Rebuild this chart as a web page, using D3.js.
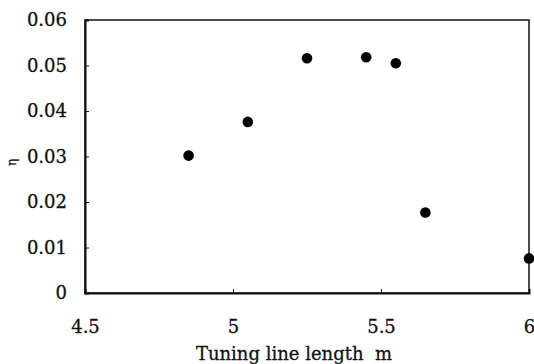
<!DOCTYPE html>
<html>
<head>
<meta charset="utf-8">
<script src="https://cdn.jsdelivr.net/npm/d3@7"></script>
<style>
  body { margin: 0; background: #fff; }
  svg text { font-family: 'DejaVu Serif', 'Liberation Serif', serif; fill: #111; stroke: #111; stroke-width: 0.3px; }
</style>
</head>
<body>
<svg id="chart"></svg>
<script>
// tuning line length (m) vs eta
const lengths = [4.85, 5.05, 5.25, 5.45, 5.55, 5.65, 6.0];
const etas = [0.0302, 0.0376, 0.0516, 0.0518, 0.0505, 0.0177, 0.0076];
const xTicks = [4.5, 5, 5.5, 6];
const yTicks = [0, 0.01, 0.02, 0.03, 0.04, 0.05, 0.06];
const xTitle = 'Tuning line length\u00a0\u00a0m';
const yTitle = 'η';

const W = 534, H = 364;
const margin = {top: 20, right: 5, bottom: 71, left: 85};
const width = W - margin.left - margin.right;
const height = H - margin.top - margin.bottom;

const svg = d3.select('#chart')
  .attr('width', W)
  .attr('height', H)
  .append('g')
  .attr('transform', 'translate(' + margin.left + ',' + margin.top + ')');

const x = d3.scaleLinear().domain([4.5, 6]).range([0, width]);
const y = d3.scaleLinear().domain([0, 0.06]).range([height, 0]);

// frame
svg.append('rect')
  .attr('width', width)
  .attr('height', height)
  .attr('fill', 'none')
  .attr('stroke', '#111')
  .attr('stroke-width', 1.5);

// y axis, ticks pointing inward
const yAxis = svg.append('g')
  .call(d3.axisRight(y).tickValues(yTicks).tickSize(4)
    .tickFormat(d => d === 0 ? '0' : d3.format('.2f')(d)));
yAxis.select('.domain').attr('stroke', '#111').attr('stroke-width', 2);
yAxis.selectAll('.tick line').attr('stroke', '#111');
yAxis.selectAll('.tick text')
  .attr('x', -18)
  .attr('text-anchor', 'end')
  .style('font-size', '18px');

// x axis, ticks pointing inward
const xAxis = svg.append('g')
  .attr('transform', 'translate(0,' + height + ')')
  .call(d3.axisTop(x).tickValues(xTicks).tickSize(4).tickFormat(d3.format('')));
xAxis.select('.domain').attr('stroke', '#111').attr('stroke-width', 2);
xAxis.selectAll('.tick line').attr('stroke', '#111');
xAxis.selectAll('.tick text')
  .attr('y', 40)
  .attr('dy', 0)
  .style('font-size', '18px');

// points
svg.selectAll('circle.pt')
  .data(lengths)
  .enter()
  .append('circle')
  .attr('class', 'pt')
  .attr('cx', d => x(d))
  .attr('cy', (d, i) => y(etas[i]))
  .attr('r', 5.3)
  .attr('fill', '#000');

// axis titles
svg.append('text')
  .attr('x', width / 2 - 13)
  .attr('y', height + 67)
  .attr('text-anchor', 'middle')
  .style('font-size', '18px')
  .text(xTitle);

svg.append('text')
  .attr('transform', 'translate(' + (16 - margin.left) + ',' + (height / 2 + 6) + ') rotate(-90)')
  .attr('text-anchor', 'middle')
  .style('font-size', '12px')
  .text(yTitle);
</script>
</body>
</html>
